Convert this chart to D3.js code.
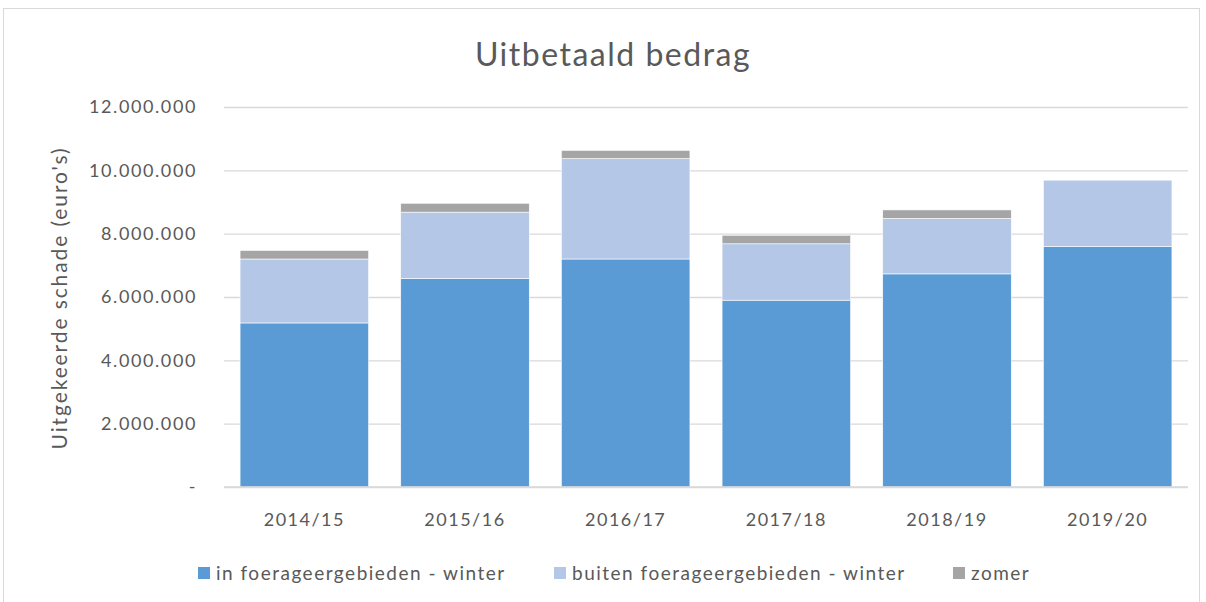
<!DOCTYPE html>
<html><head><meta charset="utf-8">
<script src="https://cdn.jsdelivr.net/npm/d3@7"></script>
<style>body{margin:0;background:#fff;}svg{display:block;font-family:Lato,"Open Sans",sans-serif;}</style>
</head><body>
<script>
const categories = ["2014/15","2015/16","2016/17","2017/18","2018/19","2019/20"];
const inForageer = [5180000, 6590000, 7200000, 5900000, 6730000, 7600000];
const buitenForageer = [2020000, 2090000, 3170000, 1780000, 1750000, 2090000];
const zomer = [270000, 280000, 260000, 270000, 270000, 0];
const seriesNames = ["in foerageergebieden - winter","buiten foerageergebieden - winter","zomer"];
const colors = ["#5b9bd5","#b4c7e7","#a5a5a5"];
const yTicks = [0,2000000,4000000,6000000,8000000,10000000,12000000];

const W=1206,H=602;
const svg=d3.select("body").append("svg").attr("width",W).attr("height",H);
svg.append("rect").attr("x",3.5).attr("y",8.5).attr("width",1196).attr("height",600).attr("fill","#fff").attr("stroke","#d9d9d9");

const x=d3.scaleBand().domain(categories).range([224,1188]).paddingInner(0.2).paddingOuter(0.1);
const y=d3.scaleLinear().domain([0,12000000]).range([487,107]);

const fmt=v=> v===0?"-":d3.format(",")(v).replace(/,/g,".");
const yAxis=svg.append("g").attr("transform","translate(224,0)")
  .call(d3.axisLeft(y).tickValues(yTicks).tickSize(-964).tickFormat(fmt).tickPadding(27));
yAxis.select(".domain").remove();
yAxis.selectAll("line").attr("stroke","#d9d9d9").attr("stroke-width",1.3);
yAxis.selectAll("text").attr("fill","#595959").style("font-size","18px").style("letter-spacing","1.6px").style("font-family","Lato,sans-serif");

const rows=categories.map((c,i)=>({cat:c,a:inForageer[i],b:buitenForageer[i],c:zomer[i]}));
const stack=d3.stack().keys(["a","b","c"])(rows);
svg.append("g").selectAll("g").data(stack).join("g").attr("fill",(d,i)=>colors[i])
  .selectAll("rect").data(d=>d).join("rect")
  .attr("x",d=>x(d.data.cat)).attr("width",x.bandwidth())
  .attr("y",d=>y(d[1])).attr("height",d=>y(d[0])-y(d[1]))
  .attr("stroke","#fff").attr("stroke-width",0.6);

svg.append("line").attr("x1",224).attr("x2",1188).attr("y1",487).attr("y2",487).attr("stroke","#d9d9d9").attr("stroke-width",1.3);

const xAxis=svg.append("g").attr("transform","translate(0,487)").call(d3.axisBottom(x).tickSize(0).tickPadding(26));
xAxis.select(".domain").remove();
xAxis.selectAll("text").attr("fill","#595959").style("font-size","18px").style("letter-spacing","1.5px").style("font-family","Lato,sans-serif");

svg.append("text").attr("x",613).attr("y",66).attr("text-anchor","middle").attr("fill","#595959")
  .style("font-size","32px").style("letter-spacing","1.5px").text("Uitbetaald bedrag");
svg.append("text").attr("transform","translate(67,298) rotate(-90)").attr("text-anchor","middle").attr("fill","#595959")
  .style("font-size","21px").style("letter-spacing","1.9px").text("Uitgekeerde schade (euro's)");

const legX=[198,554,953];
const leg=svg.append("g").selectAll("g").data(seriesNames).join("g")
  .attr("transform",(d,i)=>`translate(${legX[i]},567)`);
leg.append("rect").attr("width",12).attr("height",12).attr("fill",(d,i)=>colors[i]);
leg.append("text").attr("x",18).attr("y",13).attr("fill","#595959").style("font-size","19px").style("letter-spacing","1.5px").text(d=>d);
</script>
</body></html>
